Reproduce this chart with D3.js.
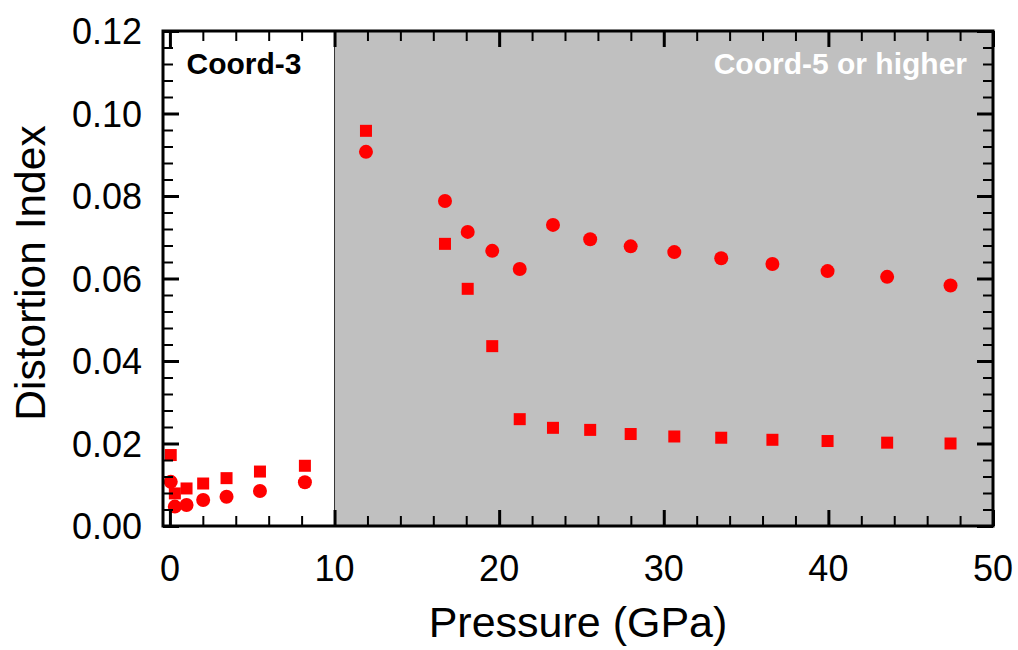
<!DOCTYPE html>
<html>
<head>
<meta charset="utf-8">
<script src="https://cdn.jsdelivr.net/npm/d3@7"></script>
<style>
  body { margin: 0; background: #fff; }
  svg { display: block; font-family: Arial, "Liberation Sans", sans-serif; }
</style>
</head>
<body>
<div id="chart"></div>
<script>
// Pressure points (GPa), shared by both series
const pressure = [0.05, 0.3, 1.01, 2.02, 3.44, 5.47, 8.2, 11.91, 16.71, 18.09, 19.58,
  21.25, 23.27, 25.53, 27.99, 30.64, 33.49, 36.6, 39.95, 43.57, 47.42];

// Circle series
const circleIndex = [0.0107, 0.0047, 0.0051, 0.0063, 0.0071, 0.0085, 0.0106, 0.0907,
  0.0788, 0.0713, 0.0667, 0.0623, 0.073, 0.0695, 0.0678, 0.0664, 0.0649, 0.0635,
  0.0618, 0.0604, 0.0583];

// Square series
const squareIndex = [0.0172, 0.0079, 0.0091, 0.0103, 0.0116, 0.0132, 0.0146, 0.0958,
  0.0684, 0.0575, 0.0436, 0.0259, 0.0238, 0.0233, 0.0223, 0.0217, 0.0214, 0.0209,
  0.0206, 0.0202, 0.02];

const xTicks = [0, 10, 20, 30, 40, 50];
const yTicks = [0, 0.02, 0.04, 0.06, 0.08, 0.1, 0.12];
const regionSplit = 10;
const regionLabels = ["Coord-3", "Coord-5 or higher"];

const width = 1018;
const height = 650;
const margin = { top: 31, right: 25, bottom: 124, left: 163 };
const innerWidth = width - margin.left - margin.right;
const innerHeight = height - margin.top - margin.bottom;

const svg = d3
  .select("#chart")
  .append("svg")
  .attr("width", width)
  .attr("height", height);

const g = svg
  .append("g")
  .attr("transform", `translate(${margin.left},${margin.top})`);

const x = d3.scaleLinear().domain([-0.42, 50]).range([0, innerWidth]);
const y = d3.scaleLinear().domain([0, 0.12]).range([innerHeight, 0]);

// Shaded high-coordination region
g.append("rect")
  .attr("x", x(regionSplit))
  .attr("y", 0)
  .attr("width", x(50) - x(regionSplit))
  .attr("height", innerHeight)
  .attr("fill", "#c0c0c0");

g.append("line")
  .attr("x1", x(regionSplit))
  .attr("x2", x(regionSplit))
  .attr("y1", 0)
  .attr("y2", innerHeight)
  .attr("stroke", "#333")
  .attr("stroke-width", 1);

g.append("text")
  .attr("x", x(regionSplit) - 148)
  .attr("y", 43)
  .attr("font-size", 30)
  .attr("font-weight", "bold")
  .attr("fill", "#000")
  .text(regionLabels[0]);

g.append("text")
  .attr("x", x(50) - 26)
  .attr("y", 43)
  .attr("text-anchor", "end")
  .attr("font-size", 30)
  .attr("font-weight", "bold")
  .attr("fill", "#fff")
  .text(regionLabels[1]);

const points = pressure.map((p, i) => ({ p, c: circleIndex[i], s: squareIndex[i] }));

const sq = 12;
g.selectAll(".sq")
  .data(points)
  .enter()
  .append("rect")
  .attr("class", "sq")
  .attr("x", (d) => x(d.p) - sq / 2)
  .attr("y", (d) => y(d.s) - sq / 2)
  .attr("width", sq)
  .attr("height", sq)
  .attr("fill", "#ff0000");

g.selectAll(".dot")
  .data(points)
  .enter()
  .append("circle")
  .attr("class", "dot")
  .attr("cx", (d) => x(d.p))
  .attr("cy", (d) => y(d.c))
  .attr("r", 7)
  .attr("fill", "#ff0000");

// Inward ticks on all four sides, minor ticks every 2 GPa / 0.004
const xMinor = d3.range(0, 50.01, 2).filter((v) => v % 10 !== 0);
const yMinor = d3.range(0.004, 0.12, 0.004).filter((v) => Math.abs(v / 0.02 - Math.round(v / 0.02)) > 1e-6);
const major = 16;
const minor = 10;

function tickStyle(sel, w) {
  sel.select(".domain").remove();
  sel.selectAll(".tick line").attr("stroke", "#000").attr("stroke-width", w);
  sel.selectAll(".tick text").remove();
}

g.append("g")
  .attr("transform", `translate(0,${innerHeight})`)
  .call(d3.axisTop(x).tickValues(xTicks).tickSize(major))
  .call((s) => tickStyle(s, 3));
g.append("g")
  .attr("transform", `translate(0,${innerHeight})`)
  .call(d3.axisTop(x).tickValues(xMinor).tickSize(minor))
  .call((s) => tickStyle(s, 2));
g.append("g")
  .call(d3.axisBottom(x).tickValues(xTicks).tickSize(major))
  .call((s) => tickStyle(s, 3));
g.append("g")
  .call(d3.axisBottom(x).tickValues(xMinor).tickSize(minor))
  .call((s) => tickStyle(s, 2));
g.append("g")
  .call(d3.axisRight(y).tickValues(yTicks).tickSize(major))
  .call((s) => tickStyle(s, 3));
g.append("g")
  .call(d3.axisRight(y).tickValues(yMinor).tickSize(minor))
  .call((s) => tickStyle(s, 2));
g.append("g")
  .attr("transform", `translate(${innerWidth},0)`)
  .call(d3.axisLeft(y).tickValues(yTicks).tickSize(major))
  .call((s) => tickStyle(s, 3));
g.append("g")
  .attr("transform", `translate(${innerWidth},0)`)
  .call(d3.axisLeft(y).tickValues(yMinor).tickSize(minor))
  .call((s) => tickStyle(s, 2));

// Frame
g.append("rect")
  .attr("width", innerWidth)
  .attr("height", innerHeight)
  .attr("fill", "none")
  .attr("stroke", "#000")
  .attr("stroke-width", 3);

// Tick labels
g.selectAll(".xlab")
  .data(xTicks)
  .enter()
  .append("text")
  .attr("x", (d) => x(d))
  .attr("y", innerHeight + 55)
  .attr("text-anchor", "middle")
  .attr("font-size", 36)
  .text((d) => d);

g.selectAll(".ylab")
  .data(yTicks)
  .enter()
  .append("text")
  .attr("x", -21)
  .attr("y", (d) => y(d) + 13)
  .attr("text-anchor", "end")
  .attr("font-size", 36)
  .text(d3.format(".2f"));

svg
  .append("text")
  .attr("x", 578)
  .attr("y", 637)
  .attr("text-anchor", "middle")
  .attr("font-size", 43)
  .text("Pressure (GPa)");

svg
  .append("text")
  .attr("transform", "translate(45,273) rotate(-90)")
  .attr("text-anchor", "middle")
  .attr("font-size", 42.5)
  .text("Distortion Index");
</script>
</body>
</html>
